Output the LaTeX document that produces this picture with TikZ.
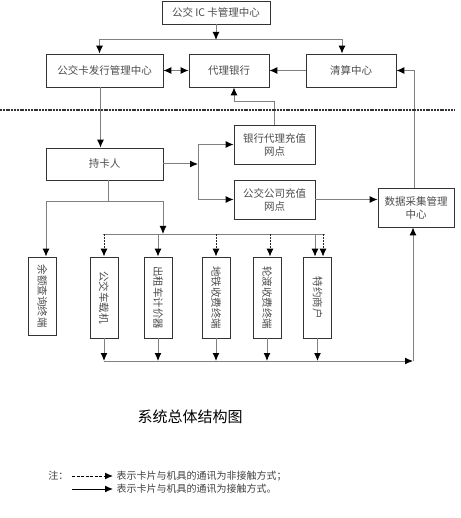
\documentclass[tikz,border=0pt]{standalone}
\usepackage{fontspec}
\setmainfont{Noto Sans CJK SC}
\usetikzlibrary{arrows.meta, positioning, calc}

\begin{document}
\begin{tikzpicture}[x=1pt, y=-1pt,
    box/.style={draw=black!80, line width=0.8pt, inner sep=1pt, align=center,
        text=black!70, font=\fontsize{10.5}{13}\selectfont},
    vbox/.style={box, minimum width=28pt, minimum height=81pt},
    link/.style={draw=black!50, line width=1pt},
    arrow/.style={link, -{Latex[color=black, length=8pt, width=7pt]}},
    both/.style={link, {Latex[color=black, length=8pt, width=7pt]}-{Latex[color=black, length=8pt, width=7pt]}},
    wire/.style={arrow, draw=black!85, dash pattern=on 2pt off 1pt},
    sep/.style={draw=black!80, line width=1.4pt, dash pattern=on 2pt off 0.8pt},
    lbl/.style={font=\fontsize{10}{12}\selectfont, text=black!75}
]
    \useasboundingbox (0,0) rectangle (460,518);
    \node[box, minimum width=108pt, minimum height=23pt] (ic) at (216,12.5) {公交 IC 卡管理中心};
    \node[box, minimum width=117pt, minimum height=33pt] (issue) at (104.5,70.5) {公交卡发行管理中心};
    \node[box, minimum width=80pt, minimum height=33pt] (bank) at (229,70.5) {代理银行};
    \node[box, minimum width=90pt, minimum height=33pt] (clear) at (351,70.5) {清算中心};
    \node[box, minimum width=117pt, minimum height=32pt] (holder) at (104.5,164) {持卡人};
    \node[box, minimum width=81pt, minimum height=39pt] (bankpt) at (274.5,144.5) {银行代理充值\\网点};
    \node[box, minimum width=81pt, minimum height=39pt] (buspt) at (274.5,199.5) {公交公司充值\\网点};
    \node[box, minimum width=76pt, minimum height=39pt] (data) at (416,207.5) {数据采集管理\\中心};
    \node[vbox, minimum height=78pt] (t0) at (42.5,296) {\rotatebox{-90}{余额查询终端}};
    \node[vbox] (t1) at (104,297.5) {\rotatebox{-90}{公交车载机}};
    \node[vbox] (t2) at (158,297.5) {\rotatebox{-90}{出租车计价器}};
    \node[vbox] (t3) at (216,297.5) {\rotatebox{-90}{地铁收费终端}};
    \node[vbox] (t4) at (267,297.5) {\rotatebox{-90}{轮渡收费终端}};
    \node[vbox] (t5) at (317.5,297.5) {\rotatebox{-90}{特约商户}};
    \coordinate (split) at (216,40);
    \coordinate (fork) at (198,164);
    \coordinate (hub) at (108,202);
    \coordinate (drop) at (163,234);
    \coordinate (busL) at (103,234);
    \coordinate (busR) at (325,234);
    \coordinate (botL) at (104,361);
    \coordinate (botR) at (413,361);
    % upper part
    \draw[arrow] (ic) -- (split);
    \draw[arrow] (split) -| ([xshift=-5pt]issue.north);
    \draw[arrow] (split) -| ([xshift=-9pt]clear.north);
    \draw[both] (issue) -- (bank);
    \draw[arrow] (clear) -- (bank);
    \draw[arrow] ([xshift=-2pt]data.north) |- (clear.east);
    \draw[arrow] (bankpt.north) -- ++(0,-23) -| ([xshift=5pt]bank.south);
    \draw[sep] (0,110) -- (455,110);
    \draw[arrow] ([xshift=-4pt]issue.south) -- ([xshift=-4pt]holder.north);
    \draw[arrow] (holder) -- (fork);
    \draw[arrow] (fork) |- (bankpt);
    \draw[arrow] (fork) |- (buspt);
    \draw[arrow] (buspt.east) -- (buspt.east -| data.west);
    % terminals
    \draw[link] ([xshift=3.5pt]holder.south) -- (hub);
    \draw[arrow] (hub) -| ([xshift=3.5pt]t0.north);
    \draw[arrow] (hub) -| (drop);
    \draw[link] (busL) -- (busR);
    \draw[wire] (t1.north |- busL) -- (t1.north);
    \draw[arrow] (t2.north |- busL) -- (t2.north);
    \draw[wire] (t3.north |- busL) -- (t3.north);
    \draw[wire] ([xshift=3pt]t4.north |- busL) -- ([xshift=3pt]t4.north);
    \draw[arrow] ([xshift=-2.5pt]t5.north |- busL) -- ([xshift=-2.5pt]t5.north);
    \draw[wire] ([xshift=5.5pt]t5.north |- busL) -- ([xshift=5.5pt]t5.north);
    \draw[arrow] (t1.south) -- (t1.south |- botL);
    \draw[arrow] (t2.south) -- (t2.south |- botL);
    \draw[arrow] (t3.south) -- (t3.south |- botL);
    \draw[arrow] (t4.south) -- (t4.south |- botL);
    \draw[arrow] (t5.south) -- (t5.south |- botL);
    \draw[arrow] (botL) -- (botR);
    \draw[arrow] (botR) -- (botR |- data.south);
    % title and legend
    \node[font=\fontsize{15}{18}\selectfont] (title) at (190,417) {系统总体结构图};
    \node[lbl, anchor=east] (note) at (72,476) {注：};
    \node[lbl, anchor=west] (key1) at (113,476) {表示卡片与机具的通讯为非接触方式；};
    \node[lbl, anchor=west] (key2) at (113,489) {表示卡片与机具的通讯为接触方式。};
    \draw[wire, draw=black, dash pattern=on 3pt off 1.5pt] (note.east) -- (key1.west);
    \draw[arrow, draw=black] (72,489) -- (key2.west);
\end{tikzpicture}
\end{document}
